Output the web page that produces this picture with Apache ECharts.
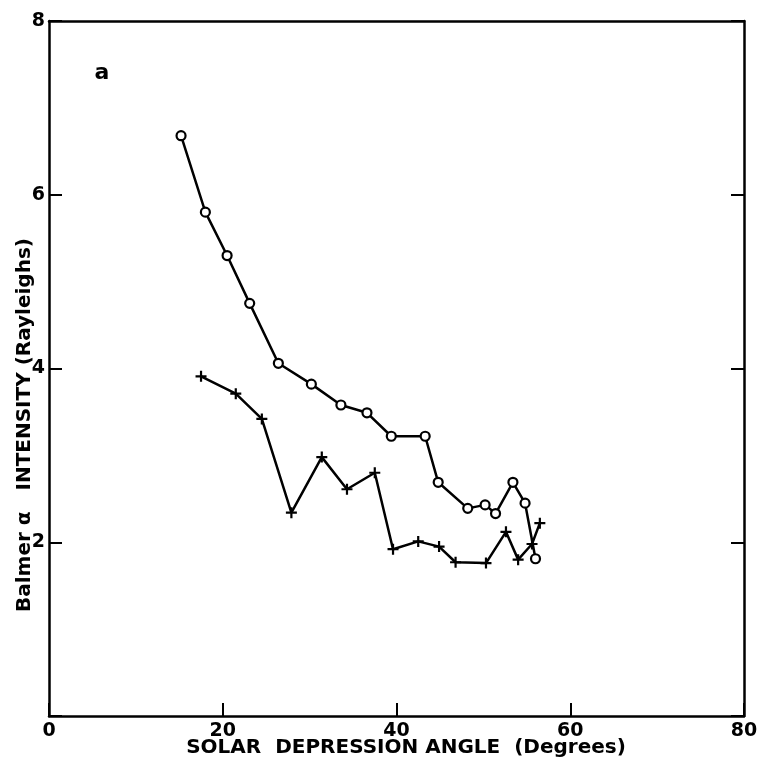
<!DOCTYPE html>
<html><head><meta charset="utf-8">
<script src="https://cdn.jsdelivr.net/npm/echarts@6/dist/echarts.min.js"></script>
<style>html,body{margin:0;padding:0;background:#fff}#c{width:761px;height:763px}</style>
</head><body><div id="c"></div>
<script>
const xTickValues = [0, 20, 40, 60, 80];
const yTickValues = [0, 2, 4, 6, 8];
const circleX = [15.2, 18.0, 20.5, 23.1, 26.4, 30.2, 33.6, 36.6, 39.4, 43.3, 44.8, 48.2, 50.2, 51.4, 53.4, 54.8, 56.0];
const circleY = [6.68, 5.80, 5.30, 4.75, 4.06, 3.82, 3.58, 3.49, 3.22, 3.22, 2.69, 2.39, 2.43, 2.33, 2.69, 2.45, 1.81];
const plusX = [17.5, 21.5, 24.5, 27.9, 31.4, 34.3, 37.5, 39.6, 42.5, 44.9, 46.8, 50.3, 52.6, 54.0, 55.6, 56.5];
const plusY = [3.91, 3.71, 3.42, 2.34, 2.98, 2.61, 2.80, 1.92, 2.01, 1.95, 1.77, 1.76, 2.12, 1.80, 1.98, 2.22];
const xTitle = 'SOLAR  DEPRESSION ANGLE  (Degrees)';
const yTitle = 'Balmer α   INTENSITY (Rayleighs)';
const panelLabel = 'a';

const FONT = 'DejaVu Sans';
const chart = echarts.init(document.getElementById('c'), null, {renderer: 'canvas'});
const circleData = circleX.map((x, i) => [x, circleY[i]]);
const plusData = plusX.map((x, i) => [x, plusY[i]]);
const axisLine = {show: true, onZero: false, lineStyle: {color: '#000', width: 2.5}};
const tick = {show: true, inside: true, length: 13, lineStyle: {color: '#000', width: 2}};
const labelStyle = {color: '#000', fontFamily: FONT, fontWeight: 'bold', fontSize: 19};
const plusPath = 'path://M4,0H6V4H10V6H6V10H4V6H0V4H4Z';

chart.setOption({
  animation: false,
  backgroundColor: '#fff',
  grid: {left: 49, top: 21, right: 17, bottom: 47, containLabel: false},
  xAxis: [
    {type: 'value', position: 'bottom', min: xTickValues[0], max: xTickValues[xTickValues.length - 1], interval: 20,
     axisLine: axisLine, axisTick: tick, splitLine: {show: false},
     axisLabel: Object.assign({margin: 6}, labelStyle)},
    {type: 'value', position: 'top', min: 0, max: 80, interval: 20,
     axisLine: axisLine, axisTick: {show: false}, splitLine: {show: false}, axisLabel: {show: false}}
  ],
  yAxis: [
    {type: 'value', position: 'left', min: yTickValues[0], max: yTickValues[yTickValues.length - 1], interval: 2,
     axisLine: axisLine, axisTick: tick, splitLine: {show: false},
     axisLabel: Object.assign({margin: 4, formatter: v => v === 0 ? '' : String(v)}, labelStyle)},
    {type: 'value', position: 'right', min: 0, max: 8, interval: 2,
     axisLine: axisLine, axisTick: tick, splitLine: {show: false}, axisLabel: {show: false}}
  ],
  graphic: [
    {type: 'text', x: 406, y: 748, style: {text: xTitle, fill: '#000', font: 'bold 20px "' + FONT + '"', align: 'center', verticalAlign: 'middle'}},
    {type: 'text', x: 25, y: 425, rotation: Math.PI / 2,
     style: {text: yTitle, fill: '#000', font: 'bold 20px "' + FONT + '"', align: 'center', verticalAlign: 'middle'}},
    {type: 'text', x: 102, y: 73, style: {text: panelLabel, fill: '#000', font: 'bold 22px "' + FONT + '"', align: 'center', verticalAlign: 'middle'}}
  ],
  series: [
    {type: 'line', data: circleData, symbol: 'circle', symbolSize: 9,
     lineStyle: {color: '#000', width: 2.5},
     itemStyle: {color: '#fff', borderColor: '#000', borderWidth: 2.2}, z: 3},
    {type: 'line', data: plusData, symbol: plusPath, symbolSize: 11,
     lineStyle: {color: '#000', width: 2.5},
     itemStyle: {color: '#000'}, z: 3}
  ]
});
</script></body></html>
